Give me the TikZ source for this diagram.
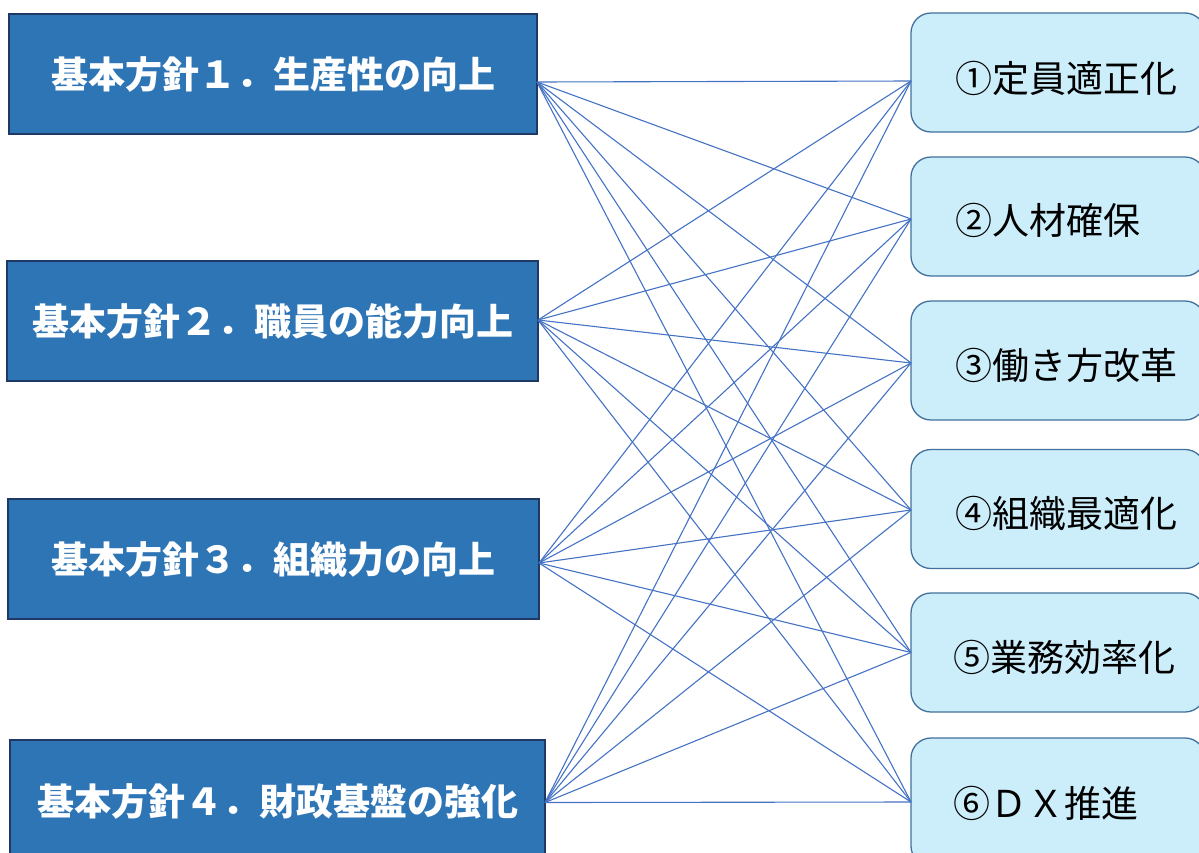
\documentclass[tikz,border=0pt]{standalone}
\usepackage{fontspec}
\newfontfamily\jp{Noto Sans CJK JP}
\definecolor{lfill}{RGB}{46,117,182}
\definecolor{ldraw}{RGB}{31,56,100}
\definecolor{rfill}{RGB}{204,238,250}
\definecolor{rdraw}{RGB}{65,113,156}
\definecolor{conncol}{RGB}{68,114,196}
\tikzset{
  lbox/.style={draw=ldraw, fill=lfill, line width=1.3pt, inner sep=0pt, outer sep=0pt,
    minimum height=120pt, text=white, font=\jp\bfseries\fontsize{37pt}{40pt}\selectfont},
  rbox/.style={draw=rdraw, fill=rfill, line width=1.3pt, rounded corners=20pt, inner sep=0pt, outer sep=0pt,
    minimum width=294pt, minimum height=119pt},
  rtext/.style={anchor=west, inner sep=0pt, text=black, font=\jp\fontsize{37pt}{40pt}\selectfont},
  conn/.style={draw=conncol, line width=1.1pt}
}
\begin{document}
\begin{tikzpicture}[x=1pt,y=-1pt]
\useasboundingbox (0,0) rectangle (1199,852);
\clip (0,0) rectangle (1199,852);
% left boxes
\node[lbox, minimum width=528pt] (L1) at (273,74) {基本方針１．生産性の向上};
\node[lbox, minimum width=531pt] (L2) at (272.5,321) {基本方針２．職員の能力向上};
\node[lbox, minimum width=531pt] (L3) at (273.5,559) {基本方針３．組織力の向上};
\node[lbox, minimum width=535pt, minimum height=125pt] (L4) at (277.5,802.5) {};
\node[inner sep=0pt, text=white, font=\jp\bfseries\fontsize{37pt}{40pt}\selectfont] (L4t) at (277.5,801) {基本方針４．財政基盤の強化};
% right boxes
\node[rbox] (R1) at (1058,72.5) {};
\node[rbox] (R2) at (1058,216.5) {};
\node[rbox] (R3) at (1058,360.5) {};
\node[rbox] (R4) at (1058,509) {};
\node[rbox] (R5) at (1058,652.5) {};
\node[rbox, minimum height=128pt] (R6) at (1058,802) {};
\node[rtext] (T1) at (955,78) {①定員適正化};
\node[rtext] (T2) at (955,220) {②人材確保};
\node[rtext] (T3) at (955,365) {③働き方改革};
\node[rtext] (T4) at (955,513) {④組織最適化};
\node[rtext] (T5) at (953,657) {⑤業務効率化};
\node[rtext] (T6) at (953,803) {⑥ＤＸ推進};
% anchor points
\coordinate (p1) at ([yshift=-8pt]L1.east);
\coordinate (p2) at ([yshift=1pt]L2.east);
\coordinate (p3) at ([yshift=-4pt]L3.east);
\coordinate (p4) at (L4.east);
\coordinate (q1) at ([yshift=-8.5pt]R1.west);
\coordinate (q2) at ([yshift=-2.5pt]R2.west);
\coordinate (q3) at ([yshift=-2.5pt]R3.west);
\coordinate (q4) at ([yshift=-1pt]R4.west);
\coordinate (q5) at (R5.west);
\coordinate (q6) at (R6.west);
\foreach \i in {1,...,4}{
  \foreach \j in {1,...,6}{
    \draw[conn] (p\i) -- (q\j);
  }
}
\end{tikzpicture}
\end{document}
